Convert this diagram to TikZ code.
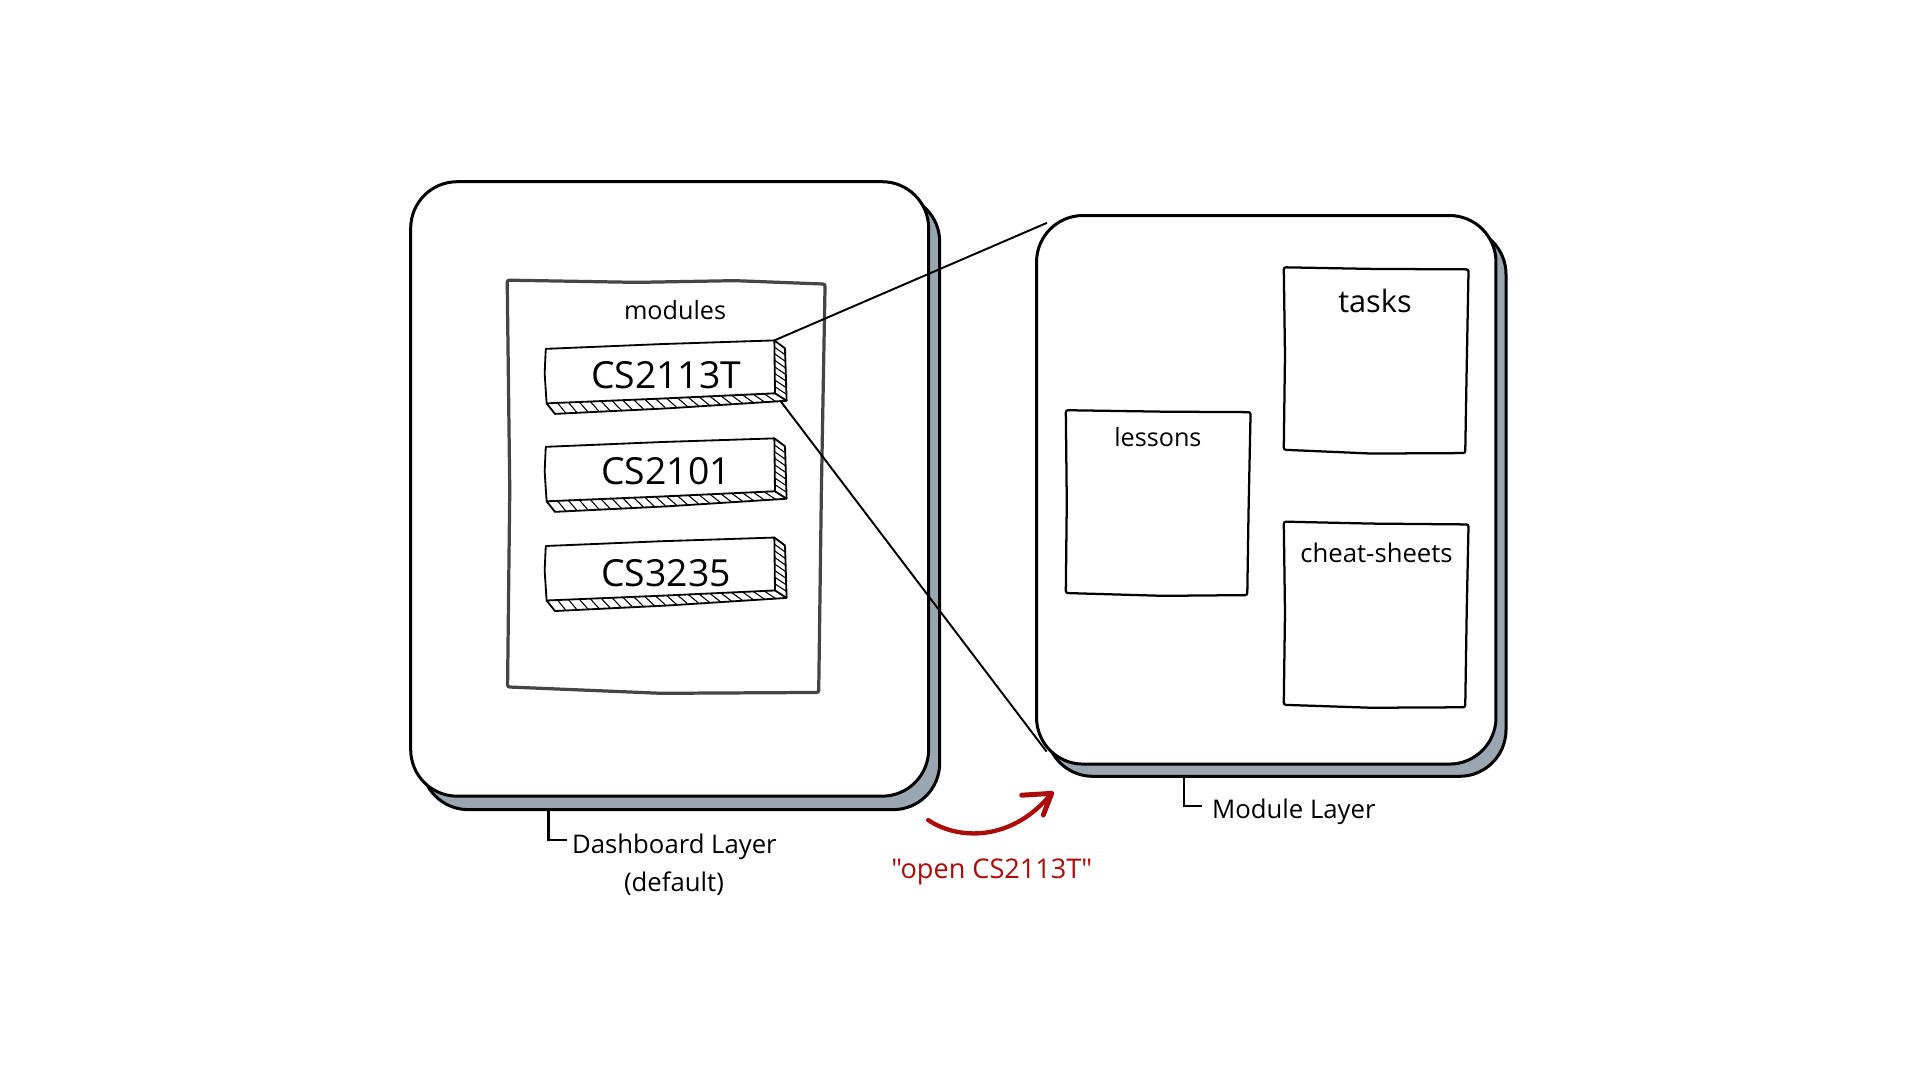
\documentclass[tikz,border=0pt]{standalone}
\usepackage{fontspec}
\setmainfont{Open Sans}
\newfontfamily\rawos{Open Sans}
\usetikzlibrary{calc}
\definecolor{shadowc}{HTML}{9AA6B2}
\definecolor{redc}{HTML}{AD0A0A}
\definecolor{greyl}{HTML}{454545}
\tikzset{
  layerbox/.style={draw=black, line width=1.4pt, fill=white, rounded corners=0.76cm},
  layershadow/.style={draw=black, line width=1.4pt, fill=shadowc, rounded corners=0.76cm},
  listbox/.style={draw=greyl, line width=1.5pt, fill=white, rounded corners=1pt},
  sketchbox/.style={draw=black, line width=1.05pt, fill=white, rounded corners=1pt},
  cardline/.style={draw=black, line width=0.85pt, line join=round},
  hatchline/.style={draw=black, line width=0.5pt},
  conn/.style={draw=black, line width=0.9pt},
  bracket/.style={draw=black, line width=1.1pt},
  lbl/.style={inner sep=0pt, font=\fontsize{11.95pt}{14pt}\selectfont},
  smalllbl/.style={inner sep=0pt, font=\fontsize{11.7pt}{14pt}\selectfont},
  bigllbl/.style={inner sep=0pt, font=\fontsize{14.3pt}{17pt}\selectfont},
  cardtxt/.style={inner sep=0pt, font=\fontsize{17.35pt}{20pt}\selectfont},
  redlbl/.style={inner sep=0pt, text=redc, font=\rawos\fontsize{12.6pt}{15pt}\selectfont},
  redarrow/.style={draw=redc, line width=2pt, line cap=round, line join=round},
}
\newcommand{\modcard}[4]{%
  \begin{scope}[shift={(0,#1)}]
    \fill[white] (445.7,284.9) -- (632.4,278) -- (641.1,284.5) -- (642.4,327.3) -- (453.2,338) -- (446.4,329.4) -- cycle;
    \draw[cardline] (445.7,284.9) -- (540,281) -- (632.4,278) -- (632.9,321.2) -- (540,325.5) -- (446.4,329.4) -- (444.8,305) -- cycle;
    \draw[cardline] (632.4,278) -- (641.1,284.5) -- (642.4,327.3) -- (545,333.5) -- (453.2,338) -- (446.4,329.4);
    \draw[cardline] (632.9,321.2) -- (642.4,327.3);
    \foreach \t in {1,...,20} {
      \draw[hatchline] ($(446.4,329.4)!\t/21!(632.9,321.2)$) -- ($(453.2,338)!\t/21!(642.4,327.3)$);
    }
    \foreach \t in {1,...,7} {
      \draw[hatchline] ($(632.4,278)!\t/8!(632.9,321.2)$) -- ($(641.1,284.5)!\t/8!(642.4,327.3)$);
    }
  \end{scope}
  \node[cardtxt, anchor=base] (#2) at (544,#4) {#3};
}
\begin{document}
\begin{tikzpicture}[x=0.02cm, y=-0.02cm]
\useasboundingbox[fill=white] (0,0) rectangle (1568,882);

% ---------------- Dashboard layer ----------------
\draw[layershadow] (344.4,159.4) rectangle (767.4,661.2);
\draw[layerbox] (335.4,148.4) rectangle (758.4,650.2);

\draw[listbox] (414.2,228.8) -- (520,230.6) -- (600,229.2) -- (673.8,232) -- (670.8,400) -- (668.6,565.5) -- (540,566.2) -- (414.5,561) -- (416.3,400) -- cycle;
\node[smalllbl, anchor=base] (modules) at (551.3,260.8) {modules};

\modcard{0}{cs2113t}{CS2113T}{317}
\modcard{80}{cs2101}{CS2101}{396}
\modcard{161}{cs3235}{CS3235}{479}

\coordinate (cardTR) at (632.4,278);
\coordinate (cardBR) at (637,327);

\draw[bracket] (447.8,661.5) -- (447.8,686) -- (462.8,686);
\node[lbl, anchor=base west] (dashlbl) at (466.9,696.9) {Dashboard Layer};
\node[lbl, anchor=base] (dashdef) at (550.4,728.2) {(default)};

% ---------------- Module layer ----------------
\draw[layershadow] (854.5,186) rectangle (1229.9,634);
\draw[layerbox] (846.5,176) rectangle (1221.7,624);

\draw[sketchbox] (1048.4,218.3) -- (1120,219.6) -- (1199.3,220) -- (1197.8,300) -- (1196.6,370) -- (1120,370.4) -- (1048.4,367.3) -- (1049.4,290) -- cycle;
\node[bigllbl, anchor=base] (tasks) at (1122.9,255) {tasks};

\draw[sketchbox] (870.4,335) -- (950,336.2) -- (1021.3,336.6) -- (1019.6,420) -- (1018.6,486) -- (950,486.6) -- (870.4,484.3) -- (871.2,410) -- cycle;
\node[smalllbl, anchor=base] (lessons) at (945.6,365) {lessons};

\draw[sketchbox] (1048.4,426) -- (1120,427.6) -- (1199.3,428.3) -- (1197.8,500) -- (1196.6,577.6) -- (1120,578) -- (1048.4,575.6) -- (1049.4,500) -- cycle;
\node[lbl, anchor=base] (cheat) at (1124.2,459.3) {cheat-sheets};

\coordinate (modTL) at (855,182);
\coordinate (modBL) at (854.7,613.8);

\draw[bracket] (967,635) -- (967,658.3) -- (982,658.3);
\node[lbl, anchor=base west] (modlbl) at (989.6,668.3) {Module Layer};

% ---------------- connectors ----------------
\draw[conn] (cardTR) -- (modTL);
\draw[conn] (cardBR) -- (modBL);

% ---------------- red arrow ----------------
\coordinate (arrS) at (758,669.7);
\coordinate (arrE) at (858.9,647.9);
\coordinate (barbA) at (834.4,649.4);
\coordinate (barbB) at (852,665.6);
\draw[redarrow] (arrS) .. controls (782,686) and (826,688) .. (arrE);
\draw[redarrow, line width=2.3pt] (barbA) -- (arrE) -- (barbB);
\node[redlbl, anchor=base] (openlbl) at (810,717.3) {"open CS2113T"};
\end{tikzpicture}
\end{document}
